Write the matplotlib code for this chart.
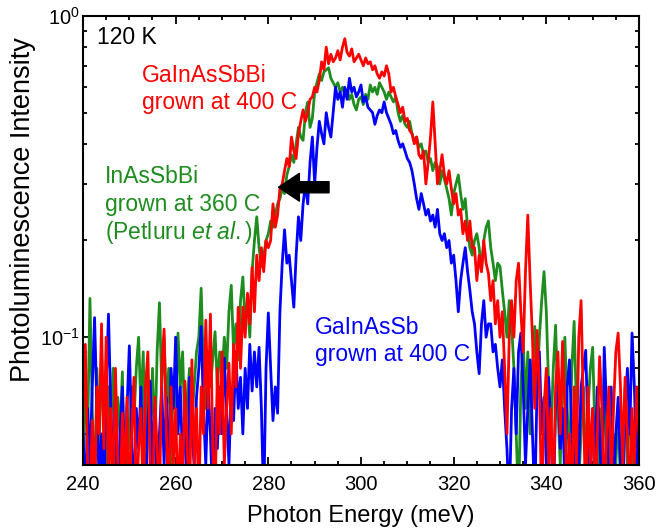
import numpy as np
import matplotlib
matplotlib.use('Agg')
import matplotlib.pyplot as plt
from matplotlib.ticker import MultipleLocator, LogLocator, NullFormatter

plt.rcParams['font.family'] = ['Liberation Sans', 'DejaVu Sans']
plt.rcParams['mathtext.fontset'] = 'custom'
plt.rcParams['mathtext.rm'] = 'Liberation Sans'
plt.rcParams['mathtext.it'] = 'Liberation Sans:italic'

# photon energy grid, 0.5 meV steps from 240 to 360
energy = np.arange(240, 360.5, 0.5)

# GaInAsSbBi grown at 400 C (red)
pl_gainassbbi = [
    0.06, 0.095, 0.04, 0.03, 0.055, 0.03, 0.07, 0.05, 0.11, 0.045,      # 240
    0.1, 0.035, 0.06, 0.03, 0.08, 0.04, 0.03, 0.058, 0.035, 0.065,      # 245
    0.03, 0.05, 0.075, 0.03, 0.045, 0.06, 0.03, 0.07, 0.09, 0.04,       # 250
    0.03, 0.065, 0.045, 0.03, 0.08, 0.106, 0.05, 0.03, 0.07, 0.04,      # 255
    0.06, 0.03, 0.05, 0.035, 0.073, 0.045, 0.03, 0.085, 0.04, 0.06,     # 260
    0.03, 0.07, 0.05, 0.113, 0.06, 0.118, 0.045, 0.03, 0.08, 0.05,      # 265
    0.09, 0.04, 0.06, 0.083, 0.05, 0.095, 0.07, 0.124, 0.08, 0.124,     # 270
    0.1, 0.137, 0.11, 0.165, 0.12, 0.18, 0.15, 0.19, 0.16, 0.2,         # 275
    0.19, 0.2, 0.26, 0.22, 0.24, 0.29, 0.3, 0.33, 0.36, 0.34,           # 280
    0.42, 0.38, 0.36, 0.43, 0.47, 0.51, 0.47, 0.5, 0.55, 0.56,          # 285
    0.6, 0.58, 0.63, 0.72, 0.68, 0.8, 0.71, 0.76, 0.72, 0.74,           # 290
    0.78, 0.73, 0.8, 0.85, 0.77, 0.75, 0.79, 0.72, 0.74, 0.76,          # 295
    0.73, 0.7, 0.74, 0.71, 0.72, 0.68, 0.7, 0.66, 0.64, 0.67,           # 300
    0.65, 0.7, 0.66, 0.58, 0.6, 0.56, 0.53, 0.5, 0.52, 0.47,            # 305
    0.48, 0.44, 0.43, 0.4, 0.42, 0.37, 0.36, 0.38, 0.3, 0.35,           # 310
    0.42, 0.54, 0.4, 0.3, 0.33, 0.37, 0.32, 0.3, 0.33, 0.29,            # 315
    0.26, 0.28, 0.24, 0.25, 0.21, 0.23, 0.2, 0.23, 0.19, 0.19,          # 320
    0.15, 0.18, 0.16, 0.2, 0.17, 0.158, 0.13, 0.15, 0.11, 0.13,         # 325
    0.1, 0.12, 0.08, 0.05, 0.1, 0.13, 0.1, 0.15, 0.17, 0.12,            # 330
    0.09, 0.16, 0.24, 0.15, 0.1, 0.06, 0.105, 0.07, 0.03, 0.06,         # 335
    0.08, 0.04, 0.06, 0.03, 0.07, 0.09, 0.05, 0.097, 0.06, 0.03,        # 340
    0.05, 0.03, 0.07, 0.04, 0.1, 0.13, 0.06, 0.03, 0.07, 0.04,          # 345
    0.06, 0.03, 0.05, 0.087, 0.06, 0.03, 0.05, 0.07, 0.035, 0.06,       # 350
    0.09, 0.103, 0.07, 0.04, 0.075, 0.05, 0.03, 0.06, 0.04, 0.07,       # 355
    0.05,                                                               # 360
]

# InAsSbBi grown at 360 C, Petluru et al. (green)
pl_inassbbi = [
    0.04, 0.07, 0.05, 0.132, 0.06, 0.03, 0.08, 0.045, 0.09, 0.05,
    0.03, 0.07, 0.055, 0.08, 0.04, 0.065, 0.05, 0.078, 0.03, 0.06,
    0.045, 0.07, 0.055, 0.08, 0.1, 0.06, 0.09, 0.04, 0.07, 0.05,
    0.08, 0.045, 0.09, 0.128, 0.07, 0.1, 0.06, 0.08, 0.04, 0.075,
    0.06, 0.103, 0.07, 0.09, 0.05, 0.065, 0.08, 0.055, 0.07, 0.09,
    0.1, 0.142, 0.08, 0.06, 0.09, 0.07, 0.085, 0.104, 0.07, 0.09,
    0.075, 0.1, 0.08, 0.12, 0.145, 0.09, 0.11, 0.085, 0.13, 0.154,
    0.11, 0.13, 0.1, 0.16, 0.2, 0.237, 0.19, 0.166, 0.18, 0.2,
    0.21, 0.23, 0.22, 0.24, 0.26, 0.27, 0.29, 0.28, 0.32, 0.34,
    0.37, 0.35, 0.4, 0.45, 0.42, 0.41, 0.5, 0.54, 0.45, 0.48,
    0.58, 0.62, 0.66, 0.63, 0.67, 0.68, 0.69, 0.64, 0.62, 0.6,
    0.62, 0.58, 0.6, 0.57, 0.59, 0.55, 0.57, 0.53, 0.51, 0.55,
    0.56, 0.53, 0.57, 0.55, 0.61, 0.58, 0.6, 0.57, 0.62, 0.6,
    0.58, 0.55, 0.58, 0.56, 0.54, 0.56, 0.5, 0.47, 0.49, 0.46,
    0.45, 0.47, 0.43, 0.41, 0.42, 0.39, 0.4, 0.37, 0.38, 0.35,
    0.36, 0.33, 0.35, 0.34, 0.3, 0.33, 0.31, 0.29, 0.27, 0.24,
    0.28, 0.3, 0.32, 0.28, 0.25, 0.27, 0.22, 0.19, 0.18, 0.2,
    0.21, 0.19, 0.16, 0.2, 0.22, 0.23, 0.19, 0.17, 0.15, 0.17,
    0.166, 0.14, 0.12, 0.1, 0.13, 0.11, 0.08, 0.05, 0.03, 0.07,
    0.1, 0.06, 0.09, 0.05, 0.08, 0.108, 0.07, 0.1, 0.13, 0.16,
    0.12, 0.07, 0.05, 0.08, 0.109, 0.06, 0.04, 0.07, 0.1, 0.06,
    0.04, 0.08, 0.112, 0.06, 0.035, 0.05, 0.07, 0.04, 0.06, 0.08,
    0.093, 0.05, 0.03, 0.06, 0.045, 0.07, 0.04, 0.055, 0.03, 0.05,
    0.04, 0.06, 0.035, 0.05, 0.07, 0.04, 0.06, 0.045, 0.03, 0.05,
    0.04,
]

# GaInAsSb grown at 400 C (blue)
pl_gainassb = [
    0.05, 0.03, 0.06, 0.04, 0.07, 0.115, 0.06, 0.035, 0.05, 0.03,
    0.07, 0.118, 0.06, 0.04, 0.065, 0.03, 0.05, 0.07, 0.04, 0.06,
    0.094, 0.05, 0.03, 0.06, 0.045, 0.07, 0.04, 0.03, 0.055, 0.073,
    0.04, 0.06, 0.03, 0.05, 0.07, 0.04, 0.065, 0.035, 0.08, 0.06,
    0.1, 0.05, 0.07, 0.04, 0.06, 0.03, 0.075, 0.05, 0.04, 0.065,
    0.08, 0.108, 0.06, 0.04, 0.07, 0.05, 0.03, 0.06, 0.045, 0.07,
    0.05, 0.086, 0.06, 0.04, 0.07, 0.055, 0.09, 0.06, 0.075, 0.05,
    0.08, 0.06, 0.095, 0.068, 0.09, 0.07, 0.093, 0.06, 0.03, 0.08,
    0.119, 0.08, 0.055, 0.07, 0.058, 0.12, 0.17, 0.216, 0.17, 0.18,
    0.15, 0.124, 0.18, 0.237, 0.2, 0.26, 0.3, 0.26, 0.35, 0.42,
    0.3, 0.39, 0.47, 0.43, 0.4, 0.5, 0.45, 0.42, 0.5, 0.6,
    0.55, 0.58, 0.52, 0.6, 0.55, 0.64, 0.58, 0.6, 0.56, 0.58,
    0.61, 0.54, 0.56, 0.52, 0.51, 0.5, 0.46, 0.49, 0.51, 0.5,
    0.54, 0.5, 0.48, 0.46, 0.43, 0.44, 0.41, 0.39, 0.4, 0.38,
    0.36, 0.35, 0.33, 0.3, 0.27, 0.25, 0.28, 0.26, 0.24, 0.25,
    0.23, 0.24, 0.22, 0.25, 0.21, 0.2, 0.21, 0.19, 0.2, 0.17,
    0.18, 0.15, 0.12, 0.15, 0.17, 0.19, 0.16, 0.14, 0.12, 0.11,
    0.09, 0.077, 0.11, 0.13, 0.1, 0.11, 0.11, 0.09, 0.095, 0.08,
    0.07, 0.085, 0.06, 0.045, 0.03, 0.06, 0.08, 0.05, 0.09, 0.103,
    0.07, 0.04, 0.06, 0.085, 0.05, 0.03, 0.07, 0.09, 0.05, 0.065,
    0.04, 0.075, 0.05, 0.03, 0.06, 0.08, 0.045, 0.06, 0.035, 0.07,
    0.085, 0.05, 0.03, 0.06, 0.04, 0.07, 0.08, 0.091, 0.05, 0.035,
    0.06, 0.04, 0.07, 0.05, 0.03, 0.093, 0.06, 0.04, 0.07, 0.035,
    0.05, 0.065, 0.04, 0.03, 0.06, 0.08, 0.05, 0.103, 0.07, 0.04,
    0.06,
]

RED = '#ff0000'
GREEN = '#1e8c1e'
BLUE = '#0000ff'

fig = plt.figure(figsize=(6.57, 5.31), dpi=100)
ax = fig.add_axes([83 / 657, 66 / 531, 556 / 657, 449 / 531])

lw = 2.0
ax.plot(energy, pl_inassbbi, color=GREEN, lw=lw)
ax.plot(energy, pl_gainassb, color=BLUE, lw=lw)
ax.plot(energy, pl_gainassbbi, color=RED, lw=lw)

ax.set_yscale('log')
ax.set_xlim(240, 360)
ax.set_ylim(0.04, 1)

ax.xaxis.set_major_locator(MultipleLocator(20))
ax.xaxis.set_minor_locator(MultipleLocator(5))
ax.yaxis.set_major_locator(LogLocator(base=10))
ax.yaxis.set_minor_locator(LogLocator(base=10, subs=np.arange(2, 10)))
ax.yaxis.set_minor_formatter(NullFormatter())

ax.tick_params(which='both', direction='in', top=True, right=True, width=1.3)
ax.tick_params(which='major', length=6, labelsize=14.5)
ax.tick_params(axis='x', which='major', pad=7)
ax.tick_params(axis='y', which='major', pad=2)
ax.tick_params(which='minor', length=3)
for sp in ax.spines.values():
    sp.set_linewidth(1.5)

ax.set_xlabel('Photon Energy (meV)', fontsize=17)
ax.xaxis.set_label_coords(0.5, -0.09)
ax.set_ylabel('Photoluminescence Intensity', fontsize=19.5)
ax.yaxis.set_label_coords(-0.085, 0.568)

# text labels (pixel positions converted to figure fraction)
def label(x, y, s, color, **kw):
    fig.text(x / 657, 1 - y / 531, s, color=color, fontsize=16.5,
             ha='left', va='center', **kw)

label(97, 37, '120 K', 'black')
label(142, 75, 'GaInAsSbBi', RED)
label(142, 103, 'grown at 400 C', RED)
label(105, 177, 'InAsSbBi', GREEN)
label(105, 205, 'grown at 360 C', GREEN)
label(105, 233, r'(Petluru $\it{et\ al.}$)', GREEN)
label(315, 327, 'GaInAsSb', BLUE)
label(315, 355, 'grown at 400 C', BLUE)

ax.annotate('', xy=(282.2, 0.293), xytext=(293.1, 0.293),
            arrowprops=dict(arrowstyle='simple,head_length=1.5,head_width=2,tail_width=0.8',
                            color='black', mutation_scale=10, shrinkA=0, shrinkB=0))

fig.savefig('out.png', dpi=100)
